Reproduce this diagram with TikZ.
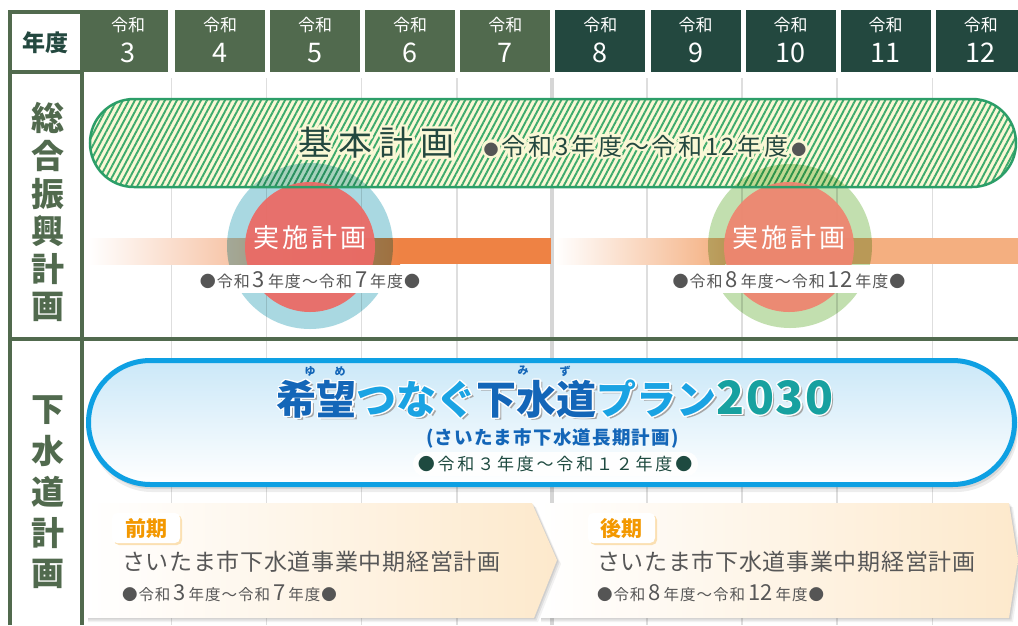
\documentclass[tikz,border=0pt]{standalone}
\usepackage{fontspec}
\setmainfont{Noto Sans CJK JP}
\usetikzlibrary{patterns.meta}

\definecolor{hdrA}{HTML}{516A4E}
\definecolor{hdrB}{HTML}{23483F}
\definecolor{framec}{HTML}{516A4E}
\definecolor{gridc}{HTML}{DEDEDE}
\definecolor{thickc}{HTML}{D6D6D6}
\definecolor{bandpale}{HTML}{FAF8D6}
\definecolor{stripec}{HTML}{3DAA6C}
\definecolor{bandedge}{HTML}{2C9E68}
\definecolor{ringblue}{HTML}{A9D8E1}
\definecolor{ringgreen}{HTML}{C2DFAF}
\definecolor{redA}{HTML}{EB6B66}
\definecolor{redB}{HTML}{EE8670}
\definecolor{orA}{HTML}{EE8244}
\definecolor{orB}{HTML}{F4AF80}
\definecolor{bandtext}{HTML}{23483F}
\definecolor{dotc}{HTML}{555555}
\definecolor{graytext}{HTML}{575757}
\definecolor{blueedge}{HTML}{0EA0E3}
\definecolor{bluefill}{HTML}{CBE8F8}
\definecolor{tdark}{HTML}{1466B8}
\definecolor{tlight}{HTML}{1AA3E3}
\definecolor{tteal}{HTML}{17A1A0}
\definecolor{dategreen}{HTML}{1E4A40}
\definecolor{peach}{HTML}{FDE9CC}
\definecolor{orangelbl}{HTML}{F39800}

\newdimen\lsp
\def\spc#1{\ifx#1\relax\else#1\kern\lsp\expandafter\spc\fi}
\newcommand\tc[1]{\color{#1}}
% halo: copies of the text in the halo colour round the real text
\newcommand\halo[6]{%
  \foreach \ang [count=\hk] in {0,30,...,330}{%
    \node[#3, text=#4, shift={(\ang:#5)}, execute at begin node={\renewcommand\tc[1]{}}] (#1-h\hk) at #2 {#6};
  }%
  \node[#3] (#1) at #2 {#6};
}
\newcommand\dlab[2]{{\tc{dotc}●}\kern1pt 令\kern1pt 和\kern3pt{\fontsize{22pt}{22pt}\selectfont #1}\kern3pt 年\kern1pt 度\kern1pt ～\kern1pt 令\kern1pt 和\kern3pt{\fontsize{22pt}{22pt}\selectfont #2}\kern3pt 年\kern1pt 度\kern1pt {\tc{dotc}●}}
\newcommand\ttl{\tc{tdark}希望\tc{tlight}つなぐ\tc{tdark}下水道\tc{tlight}プラン\tc{tteal}{\fontsize{46pt}{46pt}\selectfont 2\kern1.5pt 0\kern1.5pt 3\kern1.5pt 0}}

\tikzset{
  fs/.style={font=\fontsize{#1pt}{#1pt}\selectfont},
  fsb/.style={font=\fontsize{#1pt}{#1pt}\selectfont\bfseries},
  hdrs/.style={fs=17, text=white},
  hdrn/.style={fs=27, text=white},
  vt/.style={fsb=33, text=framec},
  frame/.style={draw=framec, line width=4pt},
  gridline/.style={draw=gridc, line width=1.5pt},
  thickline/.style={draw=thickc, line width=4pt},
  bandshape/.style={rounded corners=44pt},
  jisshi/.style={fs=26, text=white},
  clabel/.style={fs=16, text=graytext},
  btitle/.style={fs=23, text=graytext, anchor=west},
  bdate/.style={fs=15.5, text=graytext, anchor=west},
  kiki/.style={fsb=21, text=orangelbl},
  kikibox/.style={fill=white, rounded corners=5pt},
}

\begin{document}
\begin{tikzpicture}[x=1pt,y=-1pt, every node/.style={inner sep=0pt, outer sep=0pt, anchor=center}]
\useasboundingbox (0,0) rectangle (1018,625);
\fill[white] (0,0) rectangle (1018,625);

% grid lines
\foreach \i in {0,...,8}{
  \pgfmathsetmacro\gx{171.5+95.1*\i}
  \ifnum\i=4
    \draw[thickline] (\gx,78) -- (\gx,625);
  \else
    \draw[gridline] (\gx,78) -- (\gx,625);
  \fi
}

% header cells
\foreach \i/\n in {0/3,1/4,2/5,3/6,4/7,5/8,6/9,7/10,8/11,9/12}{
  \pgfmathsetmacro\cxl{\i==0 ? 80 : 79.9+95.1*\i}
  \pgfmathsetmacro\cxr{\i==0 ? 168 : 79.9+95.1*\i+90}
  \pgfmathsetmacro\cxm{\i==0 ? 128 : 79.9+95.1*\i+45}
  \ifnum\i<5 \def\cc{hdrA}\else\def\cc{hdrB}\fi
  \fill[\cc] (\cxl,10) rectangle (\cxr,72);
  \node[hdrs] (hk\n) at (\cxm,25.5) {令和};
  \node[hdrn] (hn\n) at (\cxm,53) {\n};
}

% left frame
\draw[frame] (10,625) -- (10,12) -- (80,12);
\draw[frame] (8,72) -- (84,72);
\draw[frame] (82,72) -- (82,625);
\draw[frame] (8,339) -- (1018,339);
\node[fsb=23, text=hdrB] (nendo) at (46,43) {年度};
\foreach \ch [count=\k] in {総,合,振,興,計,画}{
  \node[vt] (s\k) at (48,80.2+37.8*\k) {\ch};
}
\foreach \ch [count=\k] in {下,水,道,計,画}{
  \node[vt] (g\k) at (48,369+41*\k) {\ch};
}

% implementation bars
\shade[left color=white, right color=orA] (88,238) rectangle (400,264);
\fill[orA] (399.5,238) rectangle (551,264);
\shade[left color=white, right color=orB] (555,238) rectangle (725,264);
\fill[orB] (724.5,238) rectangle (1018,264);

% basic plan band
\fill[bandpale, bandshape] (90,99) rectangle (1016,187);
\fill[bandshape, pattern={Lines[angle=62,distance=5.3pt,line width=1.9pt]}, pattern color=stripec] (90,99) rectangle (1016,187);

% circles
\fill[ringblue, blend mode=multiply] (310,246) circle[radius=83];
\fill[ringgreen, blend mode=multiply] (790,246) circle[radius=82];
\fill[redA, opacity=0.95] (310,247) circle[radius=65];
\fill[redB, opacity=0.95] (789,247) circle[radius=65];
\draw[bandedge, line width=2.5pt, bandshape] (90,99) rectangle (1016,187);

% band texts
\halo{kihon}{(380,143)}{fs=34, text=bandtext}{bandpale}{2.8}{\lsp=7pt\spc 基本計画\relax}
\halo{kdate}{(645,146)}{fs=24, text=bandtext}{bandpale}{2.8}{{\tc{dotc}\fontsize{15pt}{15pt}\selectfont ●}\kern3pt{\lsp=2.8pt\spc 令和3年度～令和12年度\relax}{\tc{dotc}\fontsize{15pt}{15pt}\selectfont ●}}

\node[jisshi] (jA) at (311.5,238) {\lsp=3pt\spc 実施計画\relax};
\node[jisshi] (jB) at (790.5,238) {\lsp=3pt\spc 実施計画\relax};
\fill[white] (193,265) rectangle (428,293);
\fill[white] (668,265) rectangle (911,293);
\node[clabel] (dA) at (310,280) {\dlab{3}{7}};
\node[clabel] (dB) at (789,280) {\dlab{8}{12}};

% sewer plan band
\fill[black, opacity=0.07, rounded corners=62pt] (90,363) rectangle (1018,492);
\fill[black, opacity=0.09, rounded corners=62pt] (90,362) rectangle (1017,489);
\shade[top color=bluefill, bottom color=white, rounded corners=62pt] (88.5,360.5) rectangle (1014.5,484.5);
\draw[blueedge, line width=5pt, rounded corners=62pt] (88.5,360.5) rectangle (1014.5,484.5);

\node[fsb=40, text=black!35, shift={(2.5,2.5)}, execute at begin node={\renewcommand\tc[1]{}}] (ttlsh) at (555,399) {\ttl};
\halo{ttl}{(555,399)}{fsb=40}{white}{1.3}{\ttl}
\node[fsb=11, text=tdark] (rY) at (310,371) {ゆ};
\node[fsb=11, text=tdark] (rM) at (340,371) {め};
\node[fsb=11, text=tdark] (rMi) at (523,371) {み};
\node[fsb=11, text=tdark] (rZ) at (565,371) {ず};
\node[fsb=18.5, text=tdark] (sub) at (553,438) {\lsp=1.2pt\spc (さいたま市下水道長期計画)\relax};
\fill[white, opacity=0.9, rounded corners=11.5pt] (413,452) rectangle (698,476);
\node[fs=17, text=dategreen] (pdate) at (556.5,464) {\lsp=2.8pt\spc ●令和３年度～令和１２年度●\relax};

% bottom boxes (soft shadows, then boxes)
\foreach \o/\a in {4/0.05,2.5/0.07,1.2/0.08}{
  \fill[black, opacity=\a] (541,503+\o) -- (1009+\o,503+\o) -- (1018+\o,560+\o) -- (1009+\o,618+\o) -- (541,618+\o) -- cycle;
}
\shade[left color=white, right color=peach] (540,503) -- (1009,503) -- (1018,560) -- (1009,618) -- (540,618) -- cycle;
\foreach \o/\a in {4/0.05,2.5/0.07,1.2/0.08}{
  \fill[black, opacity=\a] (88,503+\o) -- (532+\o,503+\o) -- (557+\o,560+\o) -- (534+\o,618+\o) -- (88,618+\o) -- cycle;
}
\shade[left color=white, right color=peach] (87,503) -- (532,503) -- (557,560) -- (534,618) -- (87,618) -- cycle;

\fill[orangelbl!30, rounded corners=5pt] (114,515) rectangle (182,545);
\fill[kikibox] (112,513) rectangle (180,543);
\node[kiki] (zenki) at (146,529) {前期};
\fill[orangelbl!30, rounded corners=5pt] (590,515) rectangle (657,545);
\fill[kikibox] (588,513) rectangle (655,543);
\node[kiki] (kouki) at (621.5,529) {後期};

\node[btitle] (tA) at (122,562) {\lsp=0.7pt\spc さいたま市下水道事業中期経営計画\relax};
\node[btitle] (tB) at (597,562) {\lsp=0.7pt\spc さいたま市下水道事業中期経営計画\relax};
\node[bdate] (bdA) at (122,593) {\dlab{3}{7}};
\node[bdate] (bdB) at (597,593) {\dlab{8}{12}};
\end{tikzpicture}
\end{document}
